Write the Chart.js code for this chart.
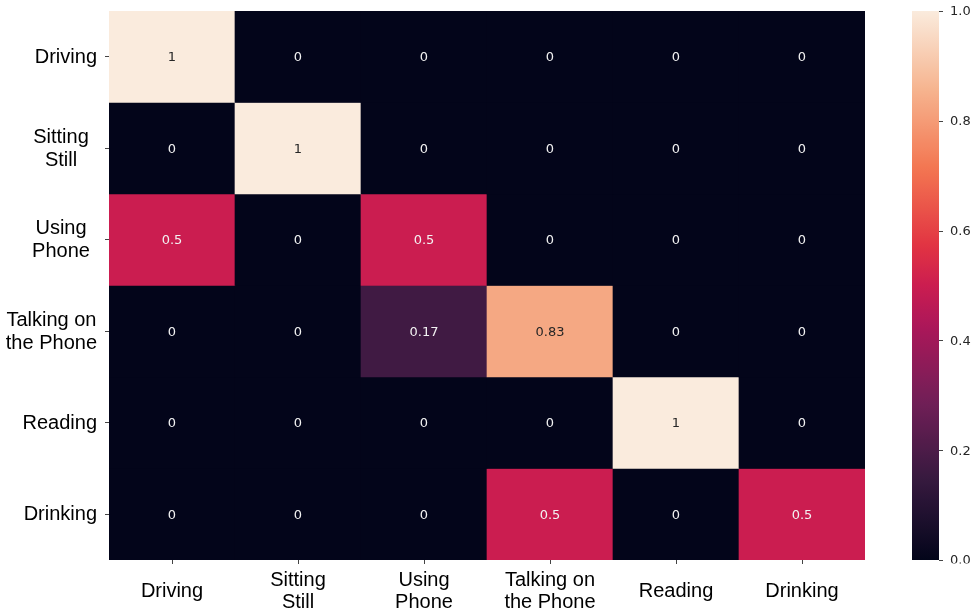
<!DOCTYPE html>
<html><head><meta charset="utf-8">
<style>html,body{margin:0;padding:0;background:#fff;} #wrap{width:979px;height:614px;position:relative;}</style>
<script src="https://cdn.jsdelivr.net/npm/chart.js@4.4.1/dist/chart.umd.min.js"></script>
</head><body><div id="wrap"><canvas id="c" width="979" height="614" style="width:979px;height:614px;display:block;"></canvas></div>
<script>
// ---- data ----
const categories = ['Driving', ['Sitting', 'Still'], ['Using', 'Phone'], ['Talking on', 'the Phone'], 'Reading', 'Drinking'];
const rowDriving  = [1, 0, 0, 0, 0, 0];
const rowSitting  = [0, 1, 0, 0, 0, 0];
const rowUsing    = [0.5, 0, 0.5, 0, 0, 0];
const rowTalking  = [0, 0, 0.17, 0.83, 0, 0];
const rowReading  = [0, 0, 0, 0, 1, 0];
const rowDrinking = [0, 0, 0, 0.5, 0, 0.5];
const rows = [rowDriving, rowSitting, rowUsing, rowTalking, rowReading, rowDrinking];
const colorbarTicks = [0, 0.2, 0.4, 0.6, 0.8, 1.0];
const colorbarTickLabels = ['0.0', '0.2', '0.4', '0.6', '0.8', '1.0'];

// ---- style: rocket colormap anchors ----
const ROCKET = [
  [0.000, [3, 5, 26]],
  [0.143, [53, 25, 62]],
  [0.286, [112, 31, 87]],
  [0.429, [173, 23, 89]],
  [0.500, [203, 29, 80]],
  [0.571, [225, 51, 66]],
  [0.714, [243, 118, 81]],
  [0.857, [246, 180, 143]],
  [1.000, [250, 235, 221]]
];
function rocketRGB(v) {
  v = Math.max(0, Math.min(1, v));
  for (let i = 1; i < ROCKET.length; i++) {
    if (v <= ROCKET[i][0]) {
      const [p0, c0] = ROCKET[i - 1], [p1, c1] = ROCKET[i];
      const t = (v - p0) / (p1 - p0);
      return c0.map((c, k) => Math.round(c + (c1[k] - c) * t));
    }
  }
  return ROCKET[ROCKET.length - 1][1];
}
function rocket(v) { const c = rocketRGB(v); return `rgb(${c[0]},${c[1]},${c[2]})`; }
function lum(v) {
  const c = rocketRGB(v).map(x => { x /= 255; return x <= 0.03928 ? x / 12.92 : Math.pow((x + 0.055) / 1.055, 2.4); });
  return 0.2126 * c[0] + 0.7152 * c[1] + 0.0722 * c[2];
}

const LABEL_FONT = '20px "Liberation Sans", Arial, sans-serif';
const LABEL_LH = 22.6;
const SMALL_FONT = '13px "DejaVu Sans", sans-serif';

const datasets = rows.map((vals, r) => ({
  data: vals.map(() => [r, r + 1]),
  values: vals,
  backgroundColor: vals.map(v => rocket(v)),
  borderWidth: 0,
  grouped: false,
  barPercentage: 1,
  categoryPercentage: 1
}));

const baseFill = {
  id: 'baseFill',
  beforeDatasetsDraw(chart) {
    const a = chart.chartArea, ctx = chart.ctx;
    ctx.save();
    ctx.fillStyle = rocket(0);
    ctx.fillRect(a.left, a.top, a.right - a.left, a.bottom - a.top);
    ctx.restore();
  }
};

const annotate = {
  id: 'annotate',
  afterDatasetsDraw(chart) {
    const ctx = chart.ctx;
    ctx.save();
    ctx.font = SMALL_FONT;
    ctx.textAlign = 'center';
    ctx.textBaseline = 'middle';
    chart.data.datasets.forEach((ds, di) => {
      chart.getDatasetMeta(di).data.forEach((el, i) => {
        const v = ds.values[i];
        const p = el.getCenterPoint();
        ctx.fillStyle = lum(v) > 0.408 ? '#262626' : '#f2f2f2';
        ctx.fillText(String(v), p.x, p.y + 1);
      });
    });
    ctx.restore();
  }
};

const yLabels = {
  id: 'yLabels',
  afterDraw(chart) {
    const ctx = chart.ctx, ys = chart.scales.y;
    ctx.save();
    ctx.font = LABEL_FONT;
    ctx.fillStyle = '#000';
    ctx.textAlign = 'center';
    ctx.textBaseline = 'middle';
    const right = ys.right - 12;
    categories.forEach((lab, i) => {
      const lines = Array.isArray(lab) ? lab : [lab];
      let w = Math.max(...lines.map(l => ctx.measureText(l).width));
      if (lines.length > 1) w = Math.max(w, 72);
      const cx = right - w / 2;
      const cy = ys.getPixelForValue(i + 0.5);
      lines.forEach((l, k) => {
        ctx.fillText(l, cx, cy + (k - (lines.length - 1) / 2) * LABEL_LH + 0.5);
      });
    });
    ctx.restore();
  }
};

const colorbar = {
  id: 'colorbar',
  afterDraw(chart) {
    const ctx = chart.ctx, cb = chart.scales.cb;
    const y0 = cb.getPixelForValue(0), y1 = cb.getPixelForValue(1);
    const x0 = cb.left + 47, x1 = cb.left + 74;
    ctx.save();
    const g = ctx.createLinearGradient(0, y0, 0, y1);
    for (let i = 0; i <= 64; i++) g.addColorStop(i / 64, rocket(i / 64));
    ctx.fillStyle = g;
    ctx.fillRect(x0, y1, x1 - x0, y0 - y1);
    ctx.strokeStyle = '#444';
    ctx.lineWidth = 1;
    ctx.beginPath();
    ctx.rect(0, 0, chart.width, chart.chartArea.bottom + 3.5);
    ctx.clip();
    ctx.font = SMALL_FONT;
    ctx.fillStyle = '#262626';
    ctx.textAlign = 'left';
    ctx.textBaseline = 'middle';
    colorbarTicks.forEach((t, i) => {
      const y = cb.getPixelForValue(t);
      ctx.beginPath();
      ctx.moveTo(x1, Math.round(y) + 0.5);
      ctx.lineTo(x1 + 4, Math.round(y) + 0.5);
      ctx.stroke();
      ctx.fillText(colorbarTickLabels[i], cb.left + 85, y + 1);
    });
    ctx.restore();
  }
};

new Chart(document.getElementById('c'), {
  type: 'bar',
  data: { labels: categories, datasets },
  options: {
    responsive: false,
    animation: false,
    devicePixelRatio: 1,
    layout: { padding: { top: 11, left: 0, right: 0, bottom: 0 } },
    plugins: { legend: { display: false }, tooltip: { enabled: false } },
    scales: {
      x: {
        type: 'category',
        offset: true,
        grid: { display: true, drawOnChartArea: false, drawTicks: true, tickLength: 4, color: '#444', offset: false },
        border: { display: false },
        ticks: { font: { family: '"Liberation Sans", Arial, sans-serif', size: 20, lineHeight: 1.13 }, color: '#000',
                 padding: 16, crossAlign: 'center', maxRotation: 0, minRotation: 0, autoSkip: false },
        afterFit: s => { s.height = 54; }
      },
      y: {
        type: 'linear', min: 0, max: 6, reverse: true,
        afterBuildTicks: s => { s.ticks = categories.map((c, i) => ({ value: i + 0.5 })); },
        grid: { display: true, drawOnChartArea: false, drawTicks: true, tickLength: 4, color: '#444' },
        border: { display: false },
        ticks: { display: false },
        afterFit: s => { s.width = 109; }
      },
      cb: {
        type: 'linear', position: 'right', min: 0, max: 1,
        grid: { display: false }, border: { display: false },
        ticks: { display: false },
        afterFit: s => { s.width = 114; }
      }
    }
  },
  plugins: [baseFill, annotate, yLabels, colorbar]
});
</script>
</body></html>
